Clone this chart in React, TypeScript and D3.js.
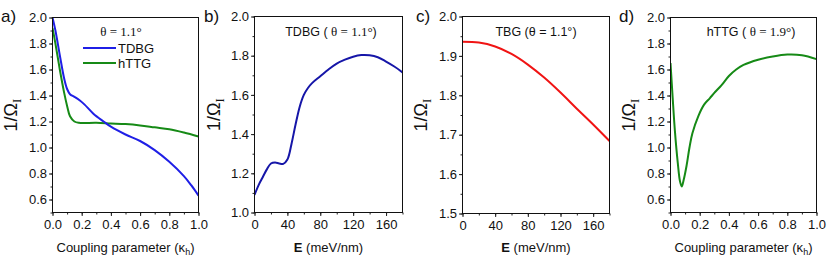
import React, { useEffect, useRef } from "react";
import * as d3 from "d3";

// panel a) 1/Omega vs coupling parameter, theta = 1.1
const A_TDBG: [number, number][] = [
  [0, 2.0], [0.02, 1.9], [0.05, 1.71], [0.08, 1.53], [0.1, 1.45], [0.12, 1.41],
  [0.15, 1.39], [0.19, 1.36], [0.22, 1.33], [0.28, 1.26], [0.35, 1.2], [0.4, 1.16],
  [0.5, 1.1], [0.6, 1.05], [0.7, 0.98], [0.8, 0.89], [0.9, 0.78], [0.95, 0.71], [1.0, 0.63],
];
const A_HTTG: [number, number][] = [
  [0, 1.92], [0.02, 1.8], [0.05, 1.6], [0.08, 1.42], [0.1, 1.32], [0.12, 1.24],
  [0.15, 1.2], [0.18, 1.19], [0.3, 1.19], [0.4, 1.185], [0.5, 1.18], [0.6, 1.17],
  [0.7, 1.155], [0.8, 1.14], [0.9, 1.115], [1.0, 1.085],
];
// panel b) TDBG vs field
const B_TDBG: [number, number][] = [
  [0, 1.09], [5, 1.14], [10, 1.18], [15, 1.22], [20, 1.25], [25, 1.255], [30, 1.25],
  [35, 1.248], [40, 1.27], [45, 1.35], [50, 1.45], [55, 1.54], [60, 1.6], [65, 1.635],
  [70, 1.66], [80, 1.695], [90, 1.73], [100, 1.76], [110, 1.78], [120, 1.795],
  [130, 1.803], [140, 1.802], [150, 1.792], [160, 1.77], [170, 1.745], [180, 1.715],
];
// panel c) TBG vs field
const C_TBG: [number, number][] = [
  [0, 1.936], [20, 1.934], [40, 1.924], [60, 1.905], [80, 1.878], [100, 1.845],
  [120, 1.807], [140, 1.766], [160, 1.726], [180, 1.684],
];
// panel d) hTTG vs coupling, theta = 1.9
const D_HTTG: [number, number][] = [
  [0, 1.65], [0.015, 1.38], [0.03, 1.13], [0.05, 0.88], [0.065, 0.74], [0.077, 0.7],
  [0.09, 0.75], [0.11, 0.86], [0.13, 1.0], [0.15, 1.11], [0.19, 1.24], [0.23, 1.33],
  [0.27, 1.38], [0.3, 1.42], [0.35, 1.48], [0.4, 1.55], [0.45, 1.6], [0.5, 1.635],
  [0.6, 1.675], [0.7, 1.7], [0.8, 1.715], [0.9, 1.71], [1.0, 1.68],
];

const KAPPA_TICKS = [0, 0.2, 0.4, 0.6, 0.8, 1.0];
const FIELD_TICKS = [0, 40, 80, 120, 160];

const BLUE = "#1f1fe6";
const NAVY = "#1616a8";
const GREEN = "#168a16";
const RED = "#f01414";
const SANS = "Liberation Sans, Arial, sans-serif";
const SERIF = "Liberation Serif, Times New Roman, serif";

type Panel = {
  label: string;
  box: { l: number; r: number; t: number; b: number };
  xDomain: [number, number];
  yDomain: [number, number];
  xTicks: number[];
  xMinorStep: number;
  yMajorStart: number;
  yStep: number;
  yMinorStep: number;
  xFmt: (d: number) => string;
  yFmt: (d: number) => string;
  xTitle: "kappa" | "field";
  series: { data: [number, number][]; color: string }[];
  labelX: number;
  yTitleX: number;
};

const PANELS: Panel[] = [
  {
    label: "a)", box: { l: 52.5, r: 198.5, t: 17.5, b: 212.5 },
    xDomain: [0, 1], yDomain: [0.5, 2.0], xTicks: KAPPA_TICKS, xMinorStep: 0.1,
    yMajorStart: 0.6, yStep: 0.2, yMinorStep: 0.1, xFmt: d3.format(".1f"), yFmt: d3.format(".1f"),
    xTitle: "kappa", series: [{ data: A_HTTG, color: GREEN }, { data: A_TDBG, color: BLUE }],
    labelX: 1, yTitleX: 17,
  },
  {
    label: "b)", box: { l: 254.5, r: 402.5, t: 16.5, b: 212.5 },
    xDomain: [0, 180], yDomain: [1.0, 2.0], xTicks: FIELD_TICKS, xMinorStep: 20,
    yMajorStart: 1.0, yStep: 0.2, yMinorStep: 0.1, xFmt: d3.format("d"), yFmt: d3.format(".1f"),
    xTitle: "field", series: [{ data: B_TDBG, color: NAVY }],
    labelX: 204, yTitleX: 220,
  },
  {
    label: "c)", box: { l: 462.5, r: 609.5, t: 16.5, b: 213.5 },
    xDomain: [0, 180], yDomain: [1.5, 2.0], xTicks: FIELD_TICKS, xMinorStep: 20,
    yMajorStart: 1.5, yStep: 0.1, yMinorStep: 0.05, xFmt: d3.format("d"), yFmt: d3.format(".1f"),
    xTitle: "field", series: [{ data: C_TBG, color: RED }],
    labelX: 416, yTitleX: 427,
  },
  {
    label: "d)", box: { l: 670.5, r: 816.5, t: 17.5, b: 212.5 },
    xDomain: [0, 1], yDomain: [0.5, 2.0], xTicks: KAPPA_TICKS, xMinorStep: 0.1,
    yMajorStart: 0.6, yStep: 0.2, yMinorStep: 0.1, xFmt: d3.format(".1f"), yFmt: d3.format(".1f"),
    xTitle: "kappa", series: [{ data: D_HTTG, color: GREEN }],
    labelX: 619, yTitleX: 635,
  },
];

export default function App() {
  const svgRef = useRef<SVGSVGElement>(null);

  useEffect(() => {
    const svg = d3.select(svgRef.current);
    svg.selectAll("*").remove();

    PANELS.forEach((p, i) => {
      const { l, r, t, b } = p.box;
      const x = d3.scaleLinear().domain(p.xDomain).range([l, r]);
      const y = d3.scaleLinear().domain(p.yDomain).range([b, t]);
      const g = svg.append("g");

      // curves first, clipped to the frame
      const clipId = `clip-${i}`;
      svg.append("clipPath").attr("id", clipId)
        .append("rect").attr("x", l).attr("y", t).attr("width", r - l).attr("height", b - t);
      const line = d3.line<[number, number]>()
        .x(d => x(d[0])).y(d => y(d[1]))
        .curve(d3.curveCatmullRom.alpha(0.5));
      p.series.forEach(s => {
        g.append("path")
          .attr("d", line(s.data))
          .attr("fill", "none")
          .attr("stroke", s.color)
          .attr("stroke-width", 2)
          .attr("clip-path", `url(#${clipId})`);
      });

      // minor ticks
      const yMinor = d3.range(p.yDomain[0], p.yDomain[1] + 1e-9, p.yMinorStep);
      const xMinor = d3.range(p.xDomain[0], p.xDomain[1] + 1e-9, p.xMinorStep);
      g.append("g")
        .attr("transform", `translate(${l},0)`)
        .call(d3.axisLeft(y).tickValues(yMinor).tickSize(2).tickFormat(() => ""))
        .call(a => a.select(".domain").remove())
        .call(a => a.selectAll(".tick line").attr("stroke", "#222"));
      g.append("g")
        .attr("transform", `translate(0,${b})`)
        .call(d3.axisBottom(x).tickValues(xMinor).tickSize(2).tickFormat(() => ""))
        .call(a => a.select(".domain").remove())
        .call(a => a.selectAll(".tick line").attr("stroke", "#222"));

      // major ticks + labels
      const yMajor = d3.range(p.yMajorStart, p.yDomain[1] + 1e-9, p.yStep);
      g.append("g")
        .attr("transform", `translate(${l},0)`)
        .call(d3.axisLeft(y).tickValues(yMajor).tickSize(3.5).tickPadding(2).tickFormat(d => p.yFmt(+d)))
        .call(a => a.select(".domain").remove())
        .call(a => a.selectAll(".tick line").attr("stroke", "#222"))
        .call(a => a.selectAll(".tick text").attr("fill", "#111").style("font-family", SANS).style("font-size", "13px"));
      g.append("g")
        .attr("transform", `translate(0,${b})`)
        .call(d3.axisBottom(x).tickValues(p.xTicks).tickSize(3.5).tickPadding(4).tickFormat(d => p.xFmt(+d)))
        .call(a => a.select(".domain").remove())
        .call(a => a.selectAll(".tick line").attr("stroke", "#222"))
        .call(a => a.selectAll(".tick text").attr("fill", "#111").style("font-family", SANS).style("font-size", "13px"));

      // frame
      g.append("rect")
        .attr("x", l).attr("y", t).attr("width", r - l).attr("height", b - t)
        .attr("fill", "none").attr("stroke", "#111").attr("stroke-width", 1);

      // panel label
      g.append("text")
        .attr("x", p.labelX).attr("y", 22)
        .style("font-family", SANS).style("font-size", "17px").attr("fill", "#111")
        .text(p.label);

      // y title 1/Ω_I
      const yt = g.append("text")
        .attr("transform", `translate(${p.yTitleX},${(t + b) / 2}) rotate(-90)`)
        .attr("text-anchor", "middle")
        .style("font-family", SANS).style("font-size", "18px").attr("fill", "#111");
      yt.append("tspan").text("1/Ω");
      yt.append("tspan").attr("dy", 4).style("font-size", "13px").style("font-family", SERIF).text("I");

      // x title
      const xt = g.append("text")
        .attr("x", (l + r) / 2).attr("y", 252)
        .attr("text-anchor", "middle")
        .style("font-family", SANS).style("font-size", "13px").attr("fill", "#111");
      if (p.xTitle === "kappa") {
        xt.append("tspan").text("Coupling parameter (κ");
        xt.append("tspan").attr("dy", 3).style("font-size", "9px").text("h");
        xt.append("tspan").attr("dy", -3).text(")");
      } else {
        xt.append("tspan").style("font-weight", "bold").text("E");
        xt.append("tspan").text(" (meV/nm)");
      }
    });

    // panel a legend
    const la = svg.append("g");
    la.append("text").attr("x", 121).attr("y", 36).attr("text-anchor", "middle")
      .style("font-family", SERIF).style("font-size", "13px").attr("fill", "#111")
      .text("θ = 1.1°");
    [{ name: "TDBG", color: BLUE, yy: 48 }, { name: "hTTG", color: GREEN, yy: 63 }].forEach(e => {
      la.append("line").attr("x1", 83).attr("x2", 116).attr("y1", e.yy).attr("y2", e.yy)
        .attr("stroke", e.color).attr("stroke-width", 2);
      la.append("text").attr("x", 118).attr("y", e.yy + 4.5)
        .style("font-family", SANS).style("font-size", "13px").attr("fill", "#111").text(e.name);
    });

    // annotations b, c, d
    const notes = [
      { x: 331, pre: "TDBG ( ", theta: "θ = 1.1°", post: ")", serif: true },
      { x: 536, pre: "TBG (", theta: "θ = 1.1°", post: ")", serif: false },
      { x: 751, pre: "hTTG ( ", theta: "θ = 1.9°", post: ")", serif: true },
    ];
    notes.forEach(n => {
      const tx = svg.append("text").attr("x", n.x).attr("y", 36).attr("text-anchor", "middle")
        .style("font-family", SANS).style("font-size", "12.5px").attr("fill", "#111");
      tx.append("tspan").text(n.pre);
      tx.append("tspan").style("font-family", n.serif ? SERIF : SANS).style("font-size", n.serif ? "13px" : "12.5px").text(n.theta);
      tx.append("tspan").text(n.post);
    });
  }, []);

  return (
    <svg
      ref={svgRef}
      width={830}
      height={263}
      style={{ position: "absolute", left: 0, top: 0, background: "#fff" }}
    />
  );
}
